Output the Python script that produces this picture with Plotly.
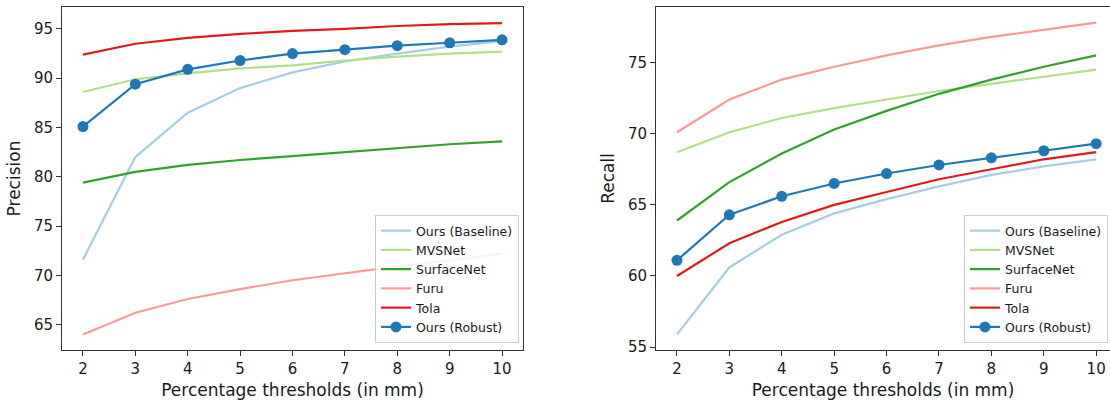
import plotly.graph_objects as go

thresholds = [2, 3, 4, 5, 6, 7, 8, 9, 10]
names = ["Ours (Baseline)", "MVSNet", "SurfaceNet", "Furu", "Tola", "Ours (Robust)"]
colors = ["#a6cee3", "#b2df8a", "#33a02c", "#fb9a99", "#e31a1c", "#1f78b4"]

baseline_p = [71.6, 82.0, 86.5, 89.0, 90.6, 91.7, 92.5, 93.2, 93.8]
mvsnet_p = [88.6, 89.9, 90.5, 91.0, 91.3, 91.8, 92.2, 92.5, 92.7]
surfacenet_p = [79.4, 80.5, 81.2, 81.7, 82.1, 82.5, 82.9, 83.3, 83.6]
furu_p = [64.0, 66.2, 67.6, 68.6, 69.5, 70.2, 70.9, 71.5, 72.2]
tola_p = [92.4, 93.5, 94.1, 94.5, 94.8, 95.0, 95.3, 95.5, 95.6]
robust_p = [85.1, 89.4, 90.9, 91.8, 92.5, 92.9, 93.3, 93.6, 93.9]

baseline_r = [55.9, 60.6, 62.9, 64.4, 65.4, 66.3, 67.1, 67.7, 68.2]
mvsnet_r = [68.7, 70.1, 71.1, 71.8, 72.4, 73.0, 73.5, 74.0, 74.5]
surfacenet_r = [63.9, 66.6, 68.6, 70.3, 71.6, 72.8, 73.8, 74.7, 75.5]
furu_r = [70.1, 72.4, 73.8, 74.7, 75.5, 76.2, 76.8, 77.3, 77.8]
tola_r = [60.0, 62.3, 63.8, 65.0, 65.9, 66.8, 67.5, 68.2, 68.7]
robust_r = [61.1, 64.3, 65.6, 66.5, 67.2, 67.8, 68.3, 68.8, 69.3]

precision = [baseline_p, mvsnet_p, surfacenet_p, furu_p, tola_p, robust_p]
recall = [baseline_r, mvsnet_r, surfacenet_r, furu_r, tola_r, robust_r]

FONT = "DejaVu Sans"
TXT = "#1a1a1a"

fig = go.Figure()
for i, (name, col) in enumerate(zip(names, colors)):
    robust = name == "Ours (Robust)"
    mode = "lines+markers" if robust else "lines"
    fig.add_trace(go.Scatter(
        x=thresholds, y=precision[i], name=name, mode=mode,
        line=dict(color=col, width=2.2), marker=dict(size=11, color=col),
        xaxis="x", yaxis="y", legend="legend"))
for i, (name, col) in enumerate(zip(names, colors)):
    robust = name == "Ours (Robust)"
    mode = "lines+markers" if robust else "lines"
    fig.add_trace(go.Scatter(
        x=thresholds, y=recall[i], name=name, mode=mode,
        line=dict(color=col, width=2.2), marker=dict(size=11, color=col),
        xaxis="x2", yaxis="y2", legend="legend2"))

W, H = 1110, 401
ml, mr, mt, mb = 62, 0, 7, 51
pw = W - ml - mr
ph = H - mt - mb


def px_x(p):
    return (p - ml) / pw


def px_y(p):
    return (H - mb - p) / ph


axis_common = dict(
    showline=True, linecolor="#333333", linewidth=1,
    ticks="outside", ticklen=5, tickcolor="#333333", tickwidth=1,
    showgrid=False, zeroline=False,
    tickfont=dict(family=FONT, size=15, color=TXT),
)

fig.update_layout(
    width=W, height=H,
    margin=dict(l=ml, r=mr, t=mt, b=mb),
    plot_bgcolor="white", paper_bgcolor="white",
    font=dict(family=FONT, color=TXT),
    xaxis=dict(axis_common, domain=[0, px_x(523)], range=[1.6, 10.4],
               tickvals=thresholds, mirror=True, anchor="y",
               title=dict(text="Percentage thresholds (in mm)",
                          font=dict(family=FONT, size=17, color=TXT), standoff=7)),
    yaxis=dict(axis_common, domain=[0, 1], range=[62.42, 97.23],
               tickvals=[65, 70, 75, 80, 85, 90, 95], mirror=True, anchor="x",
               title=dict(text="Precision",
                          font=dict(family=FONT, size=17, color=TXT), standoff=8)),
    xaxis2=dict(axis_common, domain=[px_x(656), 1], range=[1.6, 10.264],
                tickvals=thresholds, mirror=True, anchor="y2",
                title=dict(text="Percentage thresholds (in mm)",
                           font=dict(family=FONT, size=17, color=TXT), standoff=7)),
    yaxis2=dict(axis_common, domain=[0, 1], range=[54.8, 78.9],
                tickvals=[55, 60, 65, 70, 75], mirror=False, anchor="x2",
                title=dict(text="Recall",
                           font=dict(family=FONT, size=17, color=TXT), standoff=8)),
    legend=dict(x=px_x(519), y=px_y(343), xanchor="right", yanchor="bottom",
                bgcolor="rgba(255,255,255,0.85)", bordercolor="#cccccc", borderwidth=1,
                font=dict(family=FONT, size=12.5, color=TXT), itemwidth=30),
    legend2=dict(x=px_x(964), y=px_y(343), xanchor="left", yanchor="bottom",
                 bgcolor="rgba(255,255,255,0.85)", bordercolor="#cccccc", borderwidth=1,
                 font=dict(family=FONT, size=12.5, color=TXT), itemwidth=30),
)

fig.write_html(
    "out.html",
    config={"displayModeBar": False},
    post_script="document.body.style.margin='0px';document.body.style.overflow='hidden';",
)
